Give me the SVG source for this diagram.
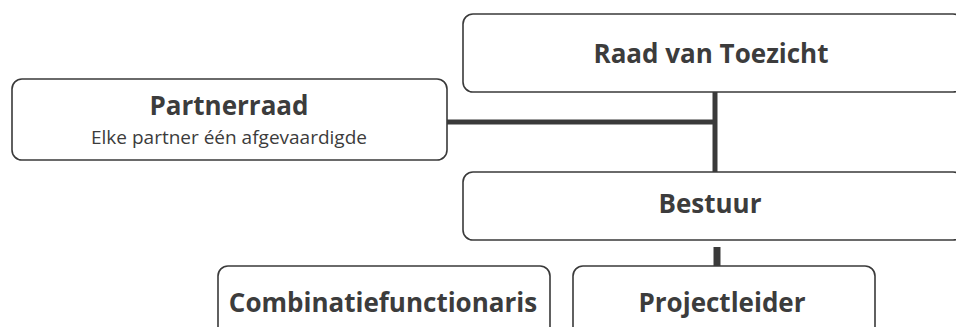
<svg xmlns="http://www.w3.org/2000/svg" width="956" height="327" viewBox="0 0 956 327">
<style>
.box{fill:#fff;stroke:#3a3a3a;stroke-width:1.6}
.t{font-family:"Open Sans","Liberation Sans",sans-serif;font-weight:bold;font-size:26px;fill:#3c3c3c;text-anchor:middle}
.s{font-family:"Open Sans","Liberation Sans",sans-serif;font-size:19px;fill:#3c3c3c;text-anchor:middle}
.c{stroke:#3a3a3a;fill:none}
</style>
<rect width="956" height="327" fill="#fff"/>
<g id="connectors">
<line class="c" x1="447" y1="122" x2="717" y2="122" stroke-width="5"/>
<line class="c" x1="715" y1="92" x2="715" y2="172" stroke-width="5"/>
<line class="c" x1="717" y1="247" x2="717" y2="266" stroke-width="7"/>
</g>
<g id="raad">
<rect class="box" x="463" y="14" width="500" height="78" rx="10"/>
<text class="t" x="711" y="63">Raad van Toezicht</text>
</g>
<g id="partnerraad">
<rect class="box" x="12" y="79" width="435" height="81" rx="10"/>
<text class="t" x="229" y="115">Partnerraad</text>
<text class="s" x="229" y="144">Elke partner één afgevaardigde</text>
</g>
<g id="bestuur">
<rect class="box" x="463" y="172" width="500" height="68" rx="10"/>
<text class="t" x="710" y="213">Bestuur</text>
</g>
<g id="combinatie">
<rect class="box" x="218" y="266" width="332" height="80" rx="10"/>
<text class="t" x="383" y="312">Combinatiefunctionaris</text>
</g>
<g id="projectleider">
<rect class="box" x="573" y="266" width="302" height="80" rx="10"/>
<text class="t" x="722" y="312">Projectleider</text>
</g>
</svg>
